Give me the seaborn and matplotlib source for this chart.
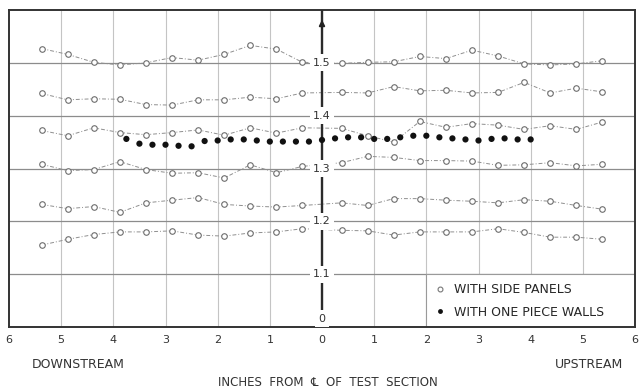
import seaborn as sns
import matplotlib.pyplot as plt
from matplotlib.lines import Line2D
from matplotlib.patches import Rectangle

# positions (inches from centre line) of the side panel taps
x_side = [-5.375, -4.875, -4.375, -3.875, -3.375, -2.875, -2.375, -1.875, -1.375, -0.875, -0.375,
          0.375, 0.875, 1.375, 1.875, 2.375, 2.875, 3.375, 3.875, 4.375, 4.875, 5.375]

side_1 = [1.527, 1.516, 1.501, 1.496, 1.500, 1.510, 1.505, 1.516, 1.533, 1.526, 1.501,
          1.499, 1.501, 1.502, 1.512, 1.508, 1.524, 1.513, 1.498, 1.496, 1.498, 1.504]
side_2 = [1.442, 1.430, 1.432, 1.431, 1.421, 1.420, 1.430, 1.430, 1.435, 1.432, 1.443,
          1.444, 1.443, 1.455, 1.447, 1.448, 1.443, 1.444, 1.463, 1.443, 1.452, 1.445]
side_3 = [1.372, 1.362, 1.377, 1.368, 1.364, 1.368, 1.373, 1.363, 1.377, 1.367, 1.377,
          1.376, 1.362, 1.350, 1.389, 1.378, 1.385, 1.382, 1.374, 1.381, 1.374, 1.388]
side_4 = [1.308, 1.296, 1.298, 1.313, 1.298, 1.291, 1.292, 1.282, 1.307, 1.292, 1.304,
          1.311, 1.323, 1.321, 1.315, 1.315, 1.314, 1.306, 1.307, 1.311, 1.305, 1.308]
side_5 = [1.232, 1.224, 1.228, 1.217, 1.235, 1.240, 1.245, 1.232, 1.229, 1.227, 1.230,
          1.235, 1.230, 1.243, 1.243, 1.240, 1.238, 1.235, 1.241, 1.238, 1.230, 1.223]
side_6 = [1.155, 1.166, 1.175, 1.180, 1.180, 1.182, 1.174, 1.172, 1.178, 1.180, 1.186,
          1.183, 1.182, 1.174, 1.180, 1.180, 1.180, 1.186, 1.179, 1.170, 1.170, 1.166]
side_series = [side_1, side_2, side_3, side_4, side_5, side_6]

# one piece walls
x_wall = [-3.75, -3.5, -3.25, -3.0, -2.75, -2.5, -2.25, -2.0, -1.75, -1.5, -1.25, -1.0, -0.75, -0.5, -0.25, 0.0,
          0.25, 0.5, 0.75, 1.0, 1.25, 1.5, 1.75, 2.0, 2.25, 2.5, 2.75, 3.0, 3.25, 3.5, 3.75, 4.0]
y_wall = [1.356, 1.347, 1.345, 1.345, 1.343, 1.342, 1.352, 1.353, 1.355, 1.355, 1.353, 1.351, 1.351, 1.351, 1.351, 1.354,
          1.357, 1.359, 1.359, 1.356, 1.356, 1.359, 1.362, 1.362, 1.359, 1.357, 1.355, 1.353, 1.356, 1.357, 1.355, 1.355]

x_ticks = [-6, -5, -4, -3, -2, -1, 0, 1, 2, 3, 4, 5, 6]
x_ticklabels = ["6", "5", "4", "3", "2", "1", "0", "1", "2", "3", "4", "5", "6"]
y_levels = [1.1, 1.2, 1.3, 1.4, 1.5]
y_labels = ["1.1", "1.2", "1.3", "1.4", "1.5"]

sns.set_theme(style="white")
plt.rcParams['font.family'] = ['DejaVu Sans', 'Noto Sans', 'Noto Sans CJK SC']

fig = plt.figure(figsize=(6.41, 3.89), dpi=100)
ax = fig.add_axes([9/641, 62/389, 626/641, 317/389])
ax.set_xlim(-6, 6)
ax.set_ylim(1.0, 1.6)

# grid
for xv in x_ticks[1:-1]:
    ax.axvline(xv, color='#c4c4c4', lw=0.8, zorder=1)
for yv in y_levels:
    ax.axhline(yv, color='#8c8c8c', lw=0.9, zorder=1)

# centre line with arrow
ax.axvline(0, color='#2b2b2b', lw=1.7, zorder=3)
ax.annotate('', xy=(0, 1.587), xytext=(0, 1.56),
            arrowprops=dict(arrowstyle='-|>', color='#222222', lw=1.4, mutation_scale=8), zorder=4)

for s in side_series:
    sns.lineplot(x=x_side, y=s, ax=ax, sort=False, color='#8f8f8f', lw=0.7,
                 linestyle=(0, (4, 2, 1, 2)), marker='o', markersize=4,
                 markerfacecolor='white', markeredgecolor='#6e6e6e', markeredgewidth=0.8, zorder=2)

sns.scatterplot(x=x_wall, y=y_wall, ax=ax, color='#111111', s=20, edgecolor='none', zorder=4)

# value labels along the centre line
for yv, lab in zip(y_levels, y_labels):
    ax.text(0, yv, lab, ha='center', va='center', fontsize=8, color='#333333', zorder=6,
            bbox=dict(facecolor='white', edgecolor='none', pad=2.5))
ax.text(0, 1.016, "0", ha='center', va='center', fontsize=8, color='#333333', zorder=6,
        bbox=dict(facecolor='white', edgecolor='none', pad=2.5))

# legend box
ax.add_patch(Rectangle((2, 1.0), 4, 0.1, facecolor='white', edgecolor='#9a9a9a', lw=0.8, zorder=2.5))
handles = [Line2D([], [], ls='none', marker='o', ms=3.5, mfc='white', mec='#777777', mew=0.8),
           Line2D([], [], ls='none', marker='o', ms=3.5, mfc='#111111', mec='none')]
ax.legend(handles, ["WITH SIDE PANELS", "WITH ONE PIECE WALLS"], loc='center left',
          bbox_to_anchor=(2.05, 1.049), bbox_transform=ax.transData, frameon=False,
          fontsize=9, handlelength=0.8, handletextpad=0.7, labelspacing=0.75, borderpad=0)

ax.set_xticks(x_ticks)
ax.set_xticklabels(x_ticklabels, fontsize=8, color='#333333')
ax.set_yticks([])
ax.tick_params(axis='x', length=0, pad=6)
ax.set_xlabel("")
ax.set_ylabel("")
for sp in ax.spines.values():
    sp.set_color('#333333')
    sp.set_linewidth(1.4)
    sp.set_visible(True)

fig.text(32/641, 1 - 364/389, "DOWNSTREAM", ha='left', va='center', fontsize=9, color='#333333')
fig.text(623/641, 1 - 364/389, "UPSTREAM", ha='right', va='center', fontsize=9, color='#333333')
fig.text(328/641, 1 - 383/389, "INCHES  FROM  \u2104  OF  TEST  SECTION", ha='center', va='center',
         fontsize=8.5, color='#333333')

fig.savefig("out.png", dpi=100, facecolor='white')
